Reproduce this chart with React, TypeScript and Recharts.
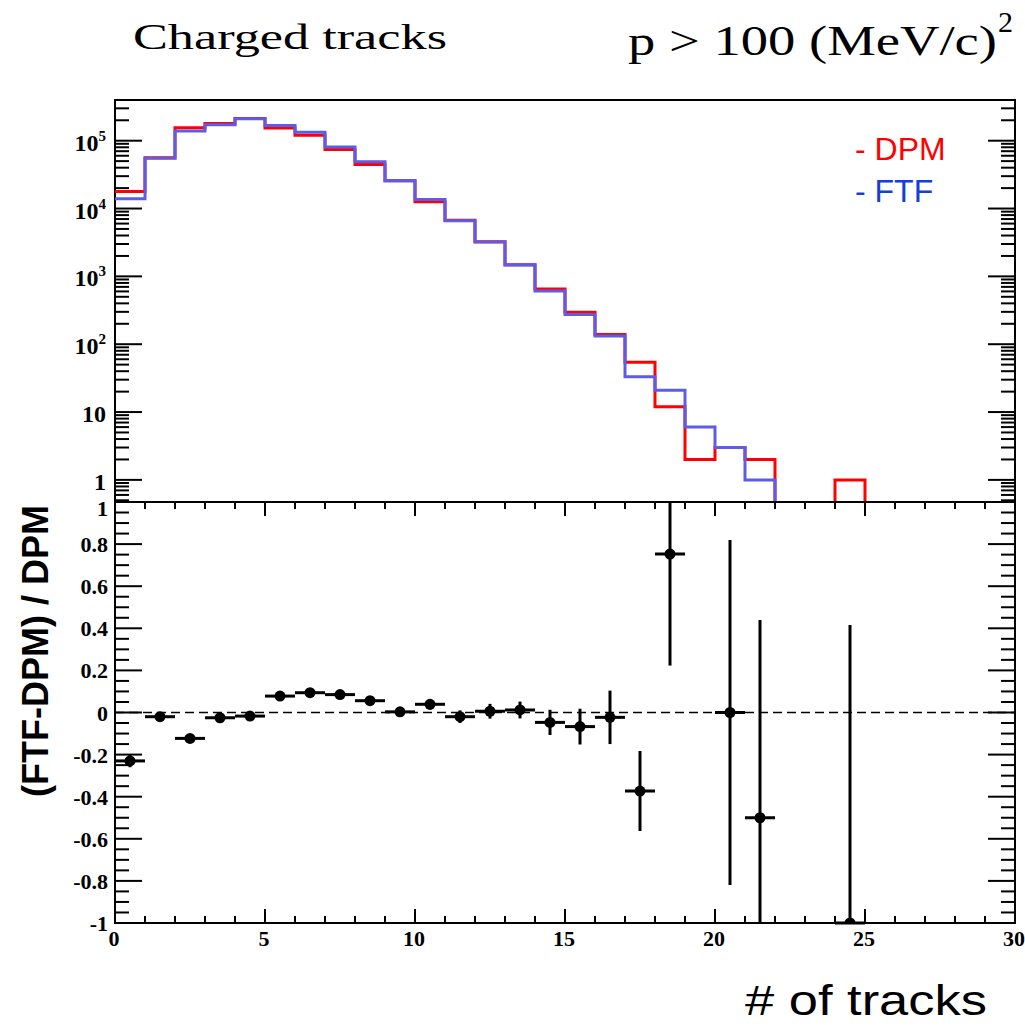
import React from "react"
import { ComposedChart, Line, Scatter, ErrorBar, XAxis, YAxis, ReferenceArea, ReferenceLine } from "recharts"

// bin edges of the track-multiplicity histogram
const binEdges = [0, 1, 2, 3, 4, 5, 6, 7, 8, 9, 10, 11, 12, 13, 14, 15, 16, 17, 18, 19, 20, 21, 22, 23, 24, 25, 26, 27, 28, 29, 30]

// counts per bin (bin i spans binEdges[i]..binEdges[i+1])
const dpmCounts = [17800, 56000, 155000, 180000, 213000, 154000, 120000, 74000, 44700, 25700, 12600, 6700, 3250, 1480, 650, 295, 139, 54, 12, 2, 3, 2, 0, 0, 1, 0, 0, 0, 0, 0]
const ftfCounts = [13900, 55000, 139000, 172000, 210000, 168000, 133000, 81000, 49000, 25700, 13600, 6600, 3200, 1470, 610, 275, 132, 33, 21, 6, 3, 1, 0, 0, 0, 0, 0, 0, 0, 0]

// (FTF-DPM)/DPM points
const ratioX = [0.5, 1.5, 2.5, 3.5, 4.5, 5.5, 6.5, 7.5, 8.5, 9.5, 10.5, 11.5, 12.5, 13.5, 14.5, 15.5, 16.5, 17.5, 18.5, 20.5, 21.5, 24.5]
const ratioY = [-0.23, -0.02, -0.123, -0.025, -0.017, 0.078, 0.094, 0.085, 0.056, 0.003, 0.039, -0.02, 0.006, 0.012, -0.047, -0.067, -0.023, -0.373, 0.753, 0, -0.5, -1]
const ratioErr = [0.03, 0.01, 0.008, 0.008, 0.008, 0.008, 0.01, 0.012, 0.015, 0.02, 0.025, 0.03, 0.035, 0.04, 0.06, 0.085, 0.127, 0.19, 0.53, 0.82, 0.94, 1.416]
const binHalfWidth = 0.5

// axis ticks
const logMajorTicks = [1, 10, 100, 1000, 10000, 100000]

const Y_LOG_MIN = 0.472
const Y_LOG_MAX = 398000
const EMPTY = 0.01 // drawn below the axis, clipped

// frame geometry
const L = 115
const R = 1015
const T1 = 100
const B1 = 502
const T2 = 502
const B2 = 923

const logMinorTicks: number[] = []
;[0.1, 1, 10, 100, 1000, 10000, 100000].forEach((d) => {
  ;[2, 3, 4, 5, 6, 7, 8, 9].forEach((m) => {
    const v = d * m
    if (v >= Y_LOG_MIN && v <= Y_LOG_MAX) logMinorTicks.push(v)
  })
})
const logTicks = [...logMajorTicks, ...logMinorTicks].sort((a, b) => a - b)

const ratioTicks: number[] = []
for (let k = -20; k <= 20; k++) ratioTicks.push(k / 20)

const histData = binEdges.map((x, i) => ({
  x,
  dpm: i < dpmCounts.length && dpmCounts[i] > 0 ? dpmCounts[i] : EMPTY,
  ftf: i < ftfCounts.length && ftfCounts[i] > 0 ? ftfCounts[i] : EMPTY,
}))

const ratioData = ratioX.map((x, i) => {
  const y = ratioY[i]
  const e = ratioErr[i]
  return {
    x,
    y,
    ex: binHalfWidth,
    ey: [Math.min(e, y + 1), Math.min(e, 1 - y)],
  }
})

const labelStyle: React.CSSProperties = {
  fontFamily: "'Liberation Serif', 'Times New Roman', serif",
  fontWeight: 700,
  fill: "#000",
}

function LogTick(props: any) {
  const { y, payload } = props
  const v = payload.value
  const major = logMajorTicks.includes(v)
  const len = major ? 27 : 14
  const exp = Math.round(Math.log10(v))
  return (
    <g>
      <line x1={L} x2={L + len} y1={y} y2={y} stroke="#000" strokeWidth={2} />
      <line x1={R - len} x2={R} y1={y} y2={y} stroke="#000" strokeWidth={2} />
      {major && (
        <text x={106} y={y + 10} textAnchor="end" fontSize={24} style={labelStyle}>
          {exp < 2 ? (
            String(v)
          ) : (
            <>
              10
              <tspan dy={-10} fontSize={15}>
                {exp}
              </tspan>
            </>
          )}
        </text>
      )}
    </g>
  )
}

function TopXTick(props: any) {
  const { x, payload } = props
  const len = payload.value % 5 === 0 ? 14 : 7
  return (
    <g>
      <line x1={x} x2={x} y1={B1 - len} y2={B1} stroke="#000" strokeWidth={2} />
      <line x1={x} x2={x} y1={T1} y2={T1 + len} stroke="#000" strokeWidth={2} />
    </g>
  )
}

function BottomXTick(props: any) {
  const { x, payload } = props
  const major = payload.value % 5 === 0
  const len = major ? 14 : 7
  return (
    <g>
      <line x1={x} x2={x} y1={B2 - len} y2={B2} stroke="#000" strokeWidth={2} />
      <line x1={x} x2={x} y1={T2} y2={T2 + len} stroke="#000" strokeWidth={2} />
      {major && (
        <text x={x - 1} y={946} textAnchor="middle" fontSize={22} style={labelStyle}>
          {payload.value}
        </text>
      )}
    </g>
  )
}

function RatioTick(props: any) {
  const { y, payload } = props
  const v = payload.value
  const major = Math.abs(v * 5 - Math.round(v * 5)) < 1e-6
  const len = major ? 27 : 14
  // the top label sits a little lower, clear of the upper pad
  const dy = v > 0.99 ? 14 : 8
  return (
    <g>
      <line x1={L} x2={L + len} y1={y} y2={y} stroke="#000" strokeWidth={2} />
      <line x1={R - len} x2={R} y1={y} y2={y} stroke="#000" strokeWidth={2} />
      {major && (
        <text x={108} y={y + dy} textAnchor="end" fontSize={22} style={labelStyle}>
          {Math.abs(v) < 1e-9 ? "0" : String(Math.round(v * 10) / 10)}
        </text>
      )}
    </g>
  )
}

function Marker(props: any) {
  const { cx, cy } = props
  if (cx == null || cy == null) return null
  return <circle cx={cx} cy={cy} r={5.5} fill="#000" />
}

const layer: React.CSSProperties = { position: "absolute", left: 0, top: 0 }

export default function App() {
  return (
    <div style={{ position: "absolute", left: 0, top: 0, width: 1025, height: 1028, background: "#fff" }}>
      <div style={layer}>
        <ComposedChart width={1025} height={502} data={histData} margin={{ top: T1, right: 1025 - R, bottom: 0, left: 0 }}>
          <XAxis
            type="number"
            dataKey="x"
            domain={[0, 30]}
            ticks={binEdges}
            interval={0}
            height={0}
            axisLine={false}
            tickLine={false}
            tick={(p: any) => <TopXTick {...p} />}
            allowDataOverflow
          />
          <YAxis
            scale="log"
            type="number"
            domain={[Y_LOG_MIN, Y_LOG_MAX]}
            ticks={logTicks}
            interval={0}
            width={L}
            axisLine={false}
            tickLine={false}
            tick={(p: any) => <LogTick {...p} />}
            allowDataOverflow
          />
          <Line type="stepAfter" dataKey="dpm" stroke="#ff0000" strokeWidth={3} dot={false} isAnimationActive={false} />
          <Line type="stepAfter" dataKey="ftf" stroke="#5c5ce6" strokeWidth={3} dot={false} isAnimationActive={false} />
          <ReferenceArea x1={0} x2={30} y1={Y_LOG_MIN} y2={Y_LOG_MAX} fill="none" stroke="#000" strokeWidth={2} ifOverflow="visible" />
        </ComposedChart>
      </div>
      <div style={layer}>
        <ComposedChart width={1025} height={1028} margin={{ top: T2, right: 1025 - R, bottom: 0, left: 0 }}>
          <XAxis
            type="number"
            dataKey="x"
            domain={[0, 30]}
            ticks={binEdges}
            interval={0}
            height={1028 - B2}
            axisLine={false}
            tickLine={false}
            tick={(p: any) => <BottomXTick {...p} />}
            allowDataOverflow
          />
          <YAxis
            type="number"
            dataKey="y"
            domain={[-1, 1]}
            ticks={ratioTicks}
            interval={0}
            width={L}
            axisLine={false}
            tickLine={false}
            tick={(p: any) => <RatioTick {...p} />}
            allowDataOverflow
          />
          <ReferenceLine y={0} stroke="#000" strokeWidth={1.5} strokeDasharray="9 5" />
          <Scatter data={ratioData} fill="#000" shape={(p: any) => <Marker {...p} />} isAnimationActive={false}>
            <ErrorBar dataKey="ex" direction="x" width={0} stroke="#000" strokeWidth={3} isAnimationActive={false} />
            <ErrorBar dataKey="ey" direction="y" width={0} stroke="#000" strokeWidth={3} isAnimationActive={false} />
          </Scatter>
          <ReferenceArea x1={0} x2={30} y1={-1} y2={1} fill="none" stroke="#000" strokeWidth={2} ifOverflow="visible" />
        </ComposedChart>
      </div>
      <svg style={{ ...layer, pointerEvents: "none" }} width={1025} height={1028}>
        <text x={133} y={49} fontSize={36} textLength={314} lengthAdjust="spacingAndGlyphs" fontFamily="'Liberation Serif', serif" fill="#000">
          Charged tracks
        </text>
        <text x={628} y={55} fontSize={42} textLength={369} lengthAdjust="spacingAndGlyphs" fontFamily="'Liberation Serif', serif" fill="#000">
          p &gt; 100 (MeV/c)
        </text>
        <text x={998} y={32} fontSize={30} fontFamily="'Liberation Serif', serif" fill="#000">
          2
        </text>
        <text x={855} y={160} fontSize={32} fontFamily="'Liberation Sans', Arial, sans-serif" fill="#ff0000">
          - DPM
        </text>
        <text x={855} y={202} fontSize={32} fontFamily="'Liberation Sans', Arial, sans-serif" fill="#1440d8">
          - FTF
        </text>
        <text
          x={48}
          y={651}
          transform="rotate(-90 48 651)"
          textAnchor="middle"
          fontSize={36}
          fontWeight={700}
          fontFamily="'Liberation Sans', Arial, sans-serif"
          fill="#000"
        >
          (FTF-DPM) / DPM
        </text>
        <text x={745} y={1015} fontSize={42} textLength={242} lengthAdjust="spacingAndGlyphs" fontFamily="'Liberation Sans', Arial, sans-serif" fill="#000">
          # of tracks
        </text>
      </svg>
    </div>
  )
}
